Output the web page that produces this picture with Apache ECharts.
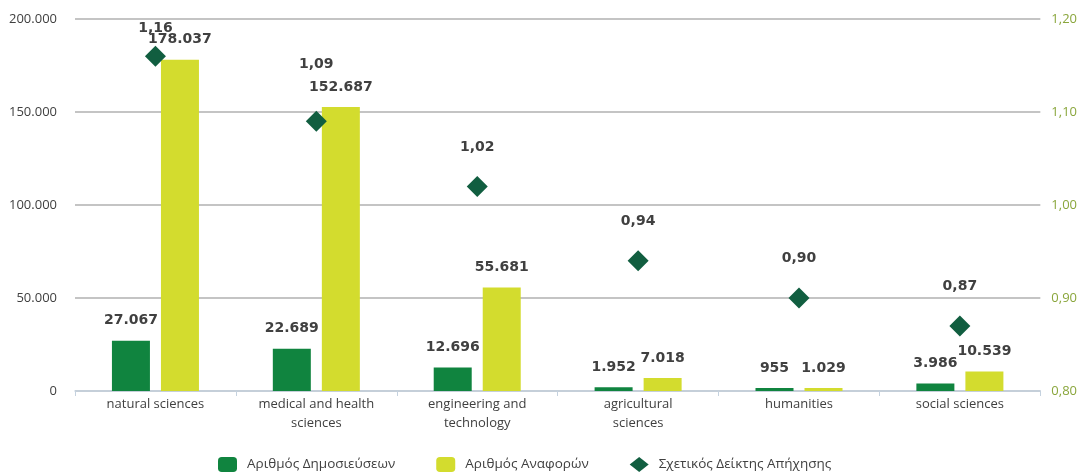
<!DOCTYPE html>
<html>
<head>
<meta charset="utf-8">
<script src="https://cdn.jsdelivr.net/npm/echarts@6/dist/echarts.min.js"></script>
<style>
  html, body { margin: 0; padding: 0; background: #ffffff; }
  #chart { width: 1080px; height: 473px; }
</style>
</head>
<body>
<div id="chart"></div>
<script>
// Scientific fields
const categories = [
  'natural sciences',
  'medical and health\nsciences',
  'engineering and\ntechnology',
  'agricultural\nsciences',
  'humanities',
  'social sciences'
];
// Number of publications
const publications = [27067, 22689, 12696, 1952, 955, 3986];
// Number of citations
const citations = [178037, 152687, 55681, 7018, 1029, 10539];
// Relative citation impact index
const impact = [1.16, 1.09, 1.02, 0.94, 0.90, 0.87];

const seriesNames = ['Αριθμός Δημοσιεύσεων', 'Αριθμός Αναφορών', 'Σχετικός Δείκτης Απήχησης'];

const fmtThousands = v => String(Math.round(v)).replace(/\B(?=(\d{3})+(?!\d))/g, '.');
const fmtDecimal = v => Number(v).toFixed(2).replace('.', ',');

const labelFont = {
  fontFamily: 'DejaVu Sans',
  fontWeight: 'bold',
  fontSize: 14,
  color: '#404040'
};

// label spacing above each impact marker, so the top two clear the bar labels
const impactLabelDistance = [10, 39, 22, 22, 22, 22];

const chart = echarts.init(document.getElementById('chart'), null, { renderer: 'canvas' });

chart.setOption({
  animation: false,
  grid: { left: 75, right: 39, top: 19, bottom: 82, containLabel: false },
  legend: {
    top: 452,
    left: 213,
    itemGap: 41,
    itemWidth: 19,
    itemHeight: 15,
    textStyle: { fontFamily: 'Open Sans', fontSize: 13.5, color: '#404040', padding: [0, 0, 0, 5] },
    data: [
      { name: seriesNames[0], icon: 'roundRect' },
      { name: seriesNames[1], icon: 'roundRect' },
      { name: seriesNames[2], icon: 'diamond' }
    ]
  },
  xAxis: {
    type: 'category',
    data: categories,
    axisLine: { lineStyle: { color: '#c5d2df', width: 1.5 } },
    axisTick: { show: true, alignWithLabel: false, length: 5, lineStyle: { color: '#c5d2df' } },
    axisLabel: {
      margin: 4,
      fontFamily: 'Open Sans',
      fontSize: 13,
      lineHeight: 19,
      color: '#404040',
      interval: 0
    }
  },
  yAxis: [
    {
      type: 'value',
      min: 0,
      max: 200000,
      interval: 50000,
      axisLine: { show: false },
      axisTick: { show: false },
      splitLine: { lineStyle: { color: '#c4c4c4', width: 2 } },
      axisLabel: {
        margin: 18,
        fontFamily: 'Open Sans',
        fontSize: 13,
        color: '#404040',
        formatter: fmtThousands
      }
    },
    {
      type: 'value',
      min: 0.8,
      max: 1.2,
      interval: 0.1,
      position: 'right',
      axisLine: { show: false },
      axisTick: { show: false },
      splitLine: { show: false },
      axisLabel: {
        margin: 11,
        fontFamily: 'Open Sans',
        fontSize: 13,
        color: '#8aa63c',
        formatter: fmtDecimal
      }
    }
  ],
  series: [
    {
      name: seriesNames[0],
      type: 'bar',
      data: publications,
      barWidth: 38,
      barGap: '29%',
      barMinHeight: 3,
      itemStyle: { color: '#10843f' },
      label: {
        show: true,
        position: 'top',
        distance: 13,
        formatter: p => fmtThousands(p.value),
        ...labelFont
      }
    },
    {
      name: seriesNames[1],
      type: 'bar',
      data: citations,
      barWidth: 38,
      barMinHeight: 3,
      itemStyle: { color: '#d3dc2e' },
      label: {
        show: true,
        position: 'top',
        distance: 13,
        formatter: p => fmtThousands(p.value),
        ...labelFont
      }
    },
    {
      name: seriesNames[2],
      type: 'scatter',
      yAxisIndex: 1,
      symbol: 'diamond',
      symbolSize: 21,
      z: 5,
      itemStyle: { color: '#115e40', opacity: 1 },
      data: impact.map((v, i) => ({
        value: v,
        label: { distance: impactLabelDistance[i] }
      })),
      label: {
        show: true,
        position: 'top',
        formatter: p => fmtDecimal(p.value),
        ...labelFont
      }
    }
  ]
});
</script>
</body>
</html>
